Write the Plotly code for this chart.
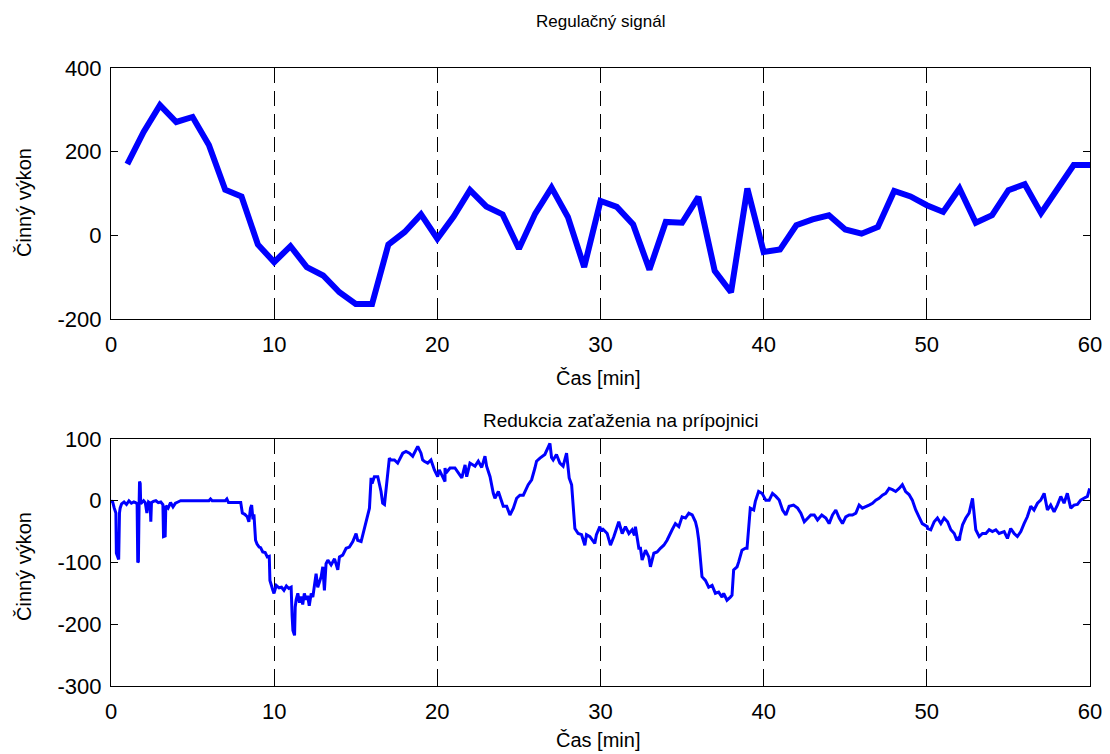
import plotly.graph_objects as go

# ---------------- data ----------------
# Top: regulation signal, one value per minute
t_reg = list(range(1, 61))
p_reg = [170, 247, 311, 271, 283, 216, 109, 93, -22, -64,
         -26, -76, -96, -136, -164, -164, -22, 8, 50, -8,
         45, 108, 69, 50, -32, 52, 114, 44, -76, 82,
         68, 26, -82, 32, 30, 92, -85, -136, 112, -40,
         -34, 24, 38, 48, 14, 4, 20, 106, 93, 72,
         56, 112, 30, 48, 108, 122, 53, 109, 168, 168]

# Bottom: load reduction on the busbar (time [min], power)
t_red = [0.00, 0.10, 0.20, 0.30, 0.33, 0.40, 0.47, 0.52, 0.56, 0.65, 0.80, 0.95, 1.10, 1.25, 1.40, 1.50, 1.60,
         1.64, 1.68, 1.72, 1.75, 1.79, 1.82, 1.90, 2.00, 2.10, 2.20, 2.30, 2.40, 2.44, 2.48, 2.60, 2.75, 2.90,
         3.05, 3.18, 3.22, 3.32, 3.36, 3.50, 3.65, 3.80, 3.95, 4.10, 4.27, 5.00, 6.00, 6.10, 6.20, 7.00,
         7.10, 7.20, 7.50, 7.95, 8.05, 8.20, 8.35, 8.45, 8.55, 8.62, 8.70, 8.76, 8.86, 8.95, 9.08, 9.17,
         9.30, 9.45, 9.58, 9.70, 9.74, 9.82, 9.92, 9.99,
         10.13, 10.30, 10.45, 10.60, 10.75, 10.90, 11.04, 11.10, 11.15, 11.25, 11.29, 11.35, 11.45, 11.55,
         11.65, 11.75, 11.85, 11.95, 12.05, 12.15, 12.27, 12.37, 12.57, 12.67, 12.88, 12.98, 13.08, 13.18,
         13.29, 13.49, 13.70, 13.90, 14.00, 14.20, 14.41, 14.61, 14.82, 15.02, 15.12, 15.33, 15.63, 15.74,
         15.84, 15.94, 16.00, 16.14, 16.35, 16.55, 16.65, 16.76, 17.06, 17.16, 17.37, 17.57, 17.78, 17.88,
         18.08, 18.29, 18.49, 18.69, 18.80, 19.00, 19.10, 19.20, 19.41, 19.61, 19.82, 20.02, 20.12,
         20.27, 20.47, 20.47, 20.53, 20.78, 21.08, 21.50, 21.70, 21.80, 22.00, 22.31, 22.51, 22.72, 22.92,
         23.02, 23.23, 23.43, 23.53, 23.74, 23.96, 24.04, 24.25, 24.45, 24.66, 24.86, 25.06, 25.27, 25.57,
         25.78, 25.98, 26.08, 26.29, 26.59, 26.90, 27.00, 27.10, 27.30, 27.51, 27.71, 27.92, 28.02, 28.08,
         28.23, 28.39, 28.43, 28.63, 28.84, 29.04, 29.14, 29.35, 29.65, 29.75, 29.96, 30.06,
         30.11, 30.41, 30.61, 30.82, 30.96, 31.12, 31.33, 31.53, 31.74, 31.94, 32.08, 32.14, 32.35, 32.45,
         32.55, 32.76, 32.96, 33.06, 33.27, 33.47, 33.67, 33.88, 34.08, 34.18, 34.39, 34.59, 34.80, 35.00,
         35.21, 35.41, 35.62, 35.82, 35.92, 36.02, 36.22, 36.43, 36.63, 36.84, 37.04, 37.24, 37.45, 37.55,
         37.75, 37.96, 38.06, 38.16, 38.37, 38.47, 38.67, 38.88, 38.98, 39.18, 39.39, 39.49, 39.69, 39.90,
         40.13, 40.34, 40.54, 40.75, 40.95, 41.16, 41.36, 41.56, 41.83, 42.08, 42.28, 42.49, 42.69, 42.89,
         43.10, 43.30, 43.56, 43.81, 44.01, 44.22, 44.42, 44.63, 44.83, 45.03, 45.24, 45.44, 45.65, 45.85,
         46.05, 46.26, 46.46, 46.67, 46.87, 47.07, 47.28, 47.48, 47.69, 47.89, 48.09, 48.30, 48.50, 48.70,
         48.91, 49.11, 49.32, 49.52, 49.72, 50.03,
         50.04, 50.24, 50.45, 50.65, 50.86, 51.06, 51.27, 51.47, 51.68, 51.84, 51.92, 52.00, 52.04, 52.19,
         52.39, 52.59, 52.80, 53.00, 53.21, 53.41, 53.62, 53.82, 54.02, 54.23, 54.43, 54.74, 54.94, 55.14,
         55.35, 55.55, 55.76, 55.96, 56.16, 56.37, 56.57, 56.78, 56.98, 57.19, 57.39, 57.59, 57.80, 58.00,
         58.21, 58.41, 58.61, 58.82, 59.02, 59.23, 59.43, 59.63, 59.84, 59.98]
p_red = [0, -2, -12, -20, -85, -92, -95, -20, -12, -5, -2, -6, 0, -4, -2, -3, -5,
         -100, -98, -10, 31, 28, -5, -2, 0, -3, -20, -2, -4, -34, -3, -1, 0, -3,
         -2, -6, -58, -57, -8, -12, -3, -10, -4, -2, 0, 0, 0, 3, 0, 0,
         3, -3, -3, -3, -20, -22, -26, -34, -12, -7, -30, -22, -64, -70, -75, -76,
         -83, -84, -91, -90, -129, -138, -145, -150,
         -137, -141, -140, -145, -138, -142, -140, -186, -210, -218, -172, -160, -150, -165,
         -155, -168, -150, -160, -154, -170, -150, -156, -118, -140, -123, -107, -145, -102,
         -96, -104, -94, -112, -91, -88, -77, -75, -66, -53, -64, -66, -34, -20,
         -12, 37, 28, 39, 39, 15, -4, -6, 69, 66, 66, 61, 72, 77,
         80, 77, 72, 83, 88, 77, 66, 64, 61, 66, 50, 39, 50,
         42, 31, 53, 45, 53, 53, 37, 58, 39, 61, 56, 64, 54, 72,
         56, 39, 12, 4, 15, -4, -9, -9, -23, -12, 4, 9, 9, 26,
         34, 53, 64, 69, 75, 93, 70, 66, 75, 61, 56, 77, 47, 37,
         26, -45, -45, -53, -55, -72, -55, -58, -69, -55, -42, -50,
         -45, -53, -72, -58, -45, -34, -53, -42, -53, -47, -56, -42, -77, -77,
         -96, -80, -91, -107, -85, -83, -77, -72, -64, -58, -47, -37, -42, -26,
         -28, -20, -23, -34, -45, -64, -123, -129, -140, -137, -150, -148, -156, -150,
         -161, -156, -153, -112, -107, -99, -80, -77, -77, -12, -15, -1, 15, 12,
         1, 1, 12, 7, 1, -15, -23, -9, -7, -12, -20, -34, -28, -23,
         -23, -31, -23, -28, -37, -23, -15, -28, -37, -26, -23, -23, -20, -7,
         -12, -10, -7, -4, 1, 4, 9, 12, 20, 18, 15, 20, 26, 15,
         10, 1, -15, -26, -37, -42, -45, -47, -34, -28,
         -37, -28, -34, -47, -53, -64, -61, -64, -56, -39, -28, -20, 4, -47,
         -58, -53, -53, -47, -50, -47, -53, -50, -61, -45, -53, -58, -50, -37,
         -26, -9, -15, -4, 1, 12, -15, -7, -18, -7, 7, -4, 12, -12,
         -7, -6, 1, 4, 7, 20, 15, 26, 34, 28, 20, 12]

x_ticks = [0, 10, 20, 30, 40, 50, 60]
y_ticks_top = [-200, 0, 200, 400]
y_ticks_bot = [-300, -200, -100, 0, 100]

title_top = "Regulačný signál"
title_bot = "Redukcia zaťaženia na prípojnici"
x_label = "Čas [min]"
y_label = "Činný výkon"

FONT = "Liberation Sans, Arial, sans-serif"
W, H = 1110, 754

fig = go.Figure()
fig.add_trace(go.Scatter(x=t_reg, y=p_reg, mode="lines",
                         line=dict(color="#0000FF", width=6), xaxis="x", yaxis="y",
                         showlegend=False))
fig.add_trace(go.Scatter(x=t_red, y=p_red, mode="lines",
                         line=dict(color="#0000FF", width=3), xaxis="x2", yaxis="y2",
                         showlegend=False))

xd = [111 / W, 1090 / W]
top_dom = [1 - 319 / H, 1 - 68 / H]
bot_dom = [1 - 686 / H, 1 - 439 / H]

def xaxis(anchor):
    return dict(domain=xd, anchor=anchor, range=[0, 60], tickvals=x_ticks,
                ticktext=[str(v) for v in x_ticks],
                ticks="inside", ticklen=7, tickcolor="black", showline=True,
                linecolor="black", linewidth=1, mirror="ticks",
                showgrid=True, gridcolor="black", gridwidth=1, griddash="15px,8px",
                zeroline=False, tickfont=dict(family=FONT, size=22, color="black"),
                ticklabelstandoff=6, automargin=False)

def yaxis(anchor, dom, rng, tv):
    return dict(domain=dom, anchor=anchor, range=rng, tickvals=tv,
                ticktext=[str(v) for v in tv],
                ticks="inside", ticklen=7, tickcolor="black", showline=True,
                linecolor="black", linewidth=1, mirror="ticks", showgrid=False,
                zeroline=False, tickfont=dict(family=FONT, size=22, color="black"),
                ticklabelstandoff=4, automargin=False)

fig.update_layout(
    width=W, height=H, paper_bgcolor="white", plot_bgcolor="white",
    margin=dict(l=0, r=0, t=0, b=0),
    xaxis=xaxis("y"), yaxis=yaxis("x", top_dom, [-200, 400], y_ticks_top),
    xaxis2=xaxis("y2"), yaxis2=yaxis("x2", bot_dom, [-300, 100], y_ticks_bot),
    font=dict(family=FONT, color="black"),
)

ann = [
    dict(text=title_top, x=600 / W, y=1 - 22 / H, size=17),
    dict(text=title_bot, x=620 / W, y=1 - 421 / H, size=19),
    dict(text=x_label, x=598 / W, y=1 - 378 / H, size=20),
    dict(text=x_label, x=598 / W, y=1 - 740 / H, size=20),
]
annotations = []
for a in ann:
    annotations.append(dict(text=a["text"], x=a["x"], y=a["y"], xref="paper", yref="paper",
                            showarrow=False, xanchor="center", yanchor="middle",
                            font=dict(family=FONT, size=a["size"], color="black")))
for yc in [203, 567]:
    annotations.append(dict(text=y_label, x=24 / W, y=1 - yc / H, xref="paper", yref="paper",
                            showarrow=False, textangle=-90, xanchor="center", yanchor="middle",
                            font=dict(family=FONT, size=20, color="black")))
fig.update_layout(annotations=annotations)

fig.write_html("out.html")
